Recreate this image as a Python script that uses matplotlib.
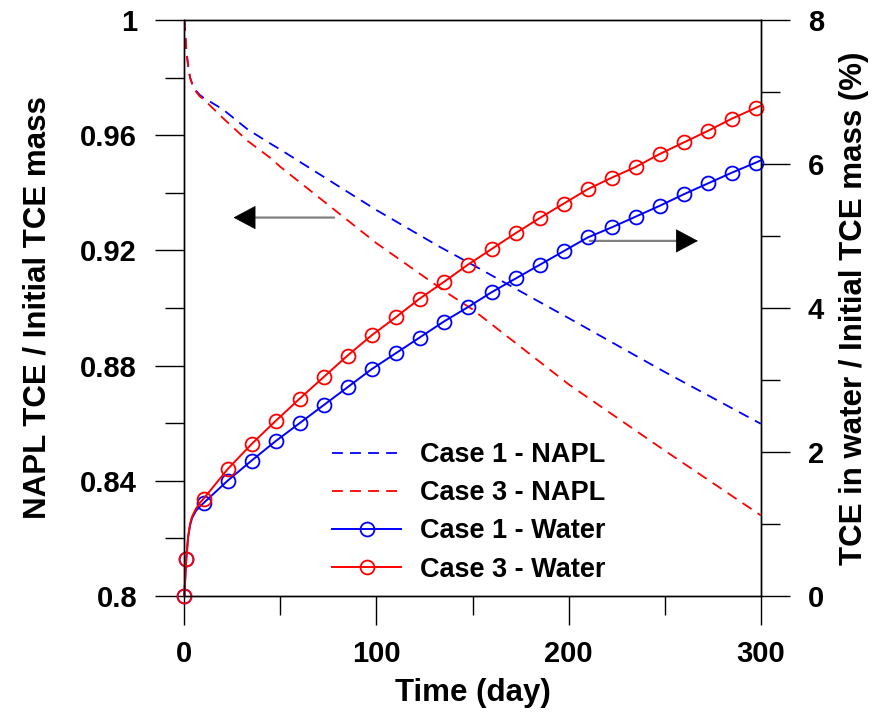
import numpy as np
import matplotlib
matplotlib.use("Agg")
import matplotlib.pyplot as plt
from matplotlib.ticker import MultipleLocator

plt.rcParams['font.family'] = ['Liberation Sans', 'DejaVu Sans']
plt.rcParams['font.weight'] = 'bold'

# NAPL mass fraction (left axis)
napl_t = [0, 0.5, 1, 2, 3, 4, 6, 8, 10, 20, 33, 45, 50, 100, 133, 135, 150, 200, 250, 300]
napl_case1 = [1.0, 0.995, 0.990, 0.984, 0.980, 0.978, 0.9755, 0.974, 0.973, 0.969, 0.962,
              0.957, 0.955, 0.934, 0.9212, 0.9205, 0.915, 0.8965, 0.8778, 0.8598]
napl_case3 = [1.0, 0.995, 0.990, 0.984, 0.980, 0.978, 0.9752, 0.9735, 0.9725, 0.966, 0.958,
              0.952, 0.949, 0.9225, 0.907, 0.906, 0.8995, 0.8735, 0.8505, 0.828]

# TCE in water (right axis, %)
water_t = [0, 1, 2, 3, 4, 6, 8, 10, 22.5, 35, 47.5, 60, 72.5, 85, 97.5, 110, 122.5, 135,
           147.5, 160, 172.5, 185, 197.5, 210, 222.5, 235, 247.5, 260, 272.5, 285, 297.5, 300]
water_case1 = [0, 0.51, 0.82, 0.98, 1.08, 1.18, 1.24, 1.29, 1.60, 1.88, 2.15, 2.40, 2.65, 2.90,
               3.15, 3.37, 3.59, 3.81, 4.01, 4.22, 4.41, 4.60, 4.79, 4.98, 5.12, 5.27, 5.42,
               5.58, 5.73, 5.88, 6.02, 6.05]
water_case3 = [0, 0.51, 0.83, 1.00, 1.10, 1.21, 1.29, 1.35, 1.76, 2.11, 2.43, 2.74, 3.04, 3.34,
               3.62, 3.87, 4.13, 4.36, 4.60, 4.82, 5.04, 5.25, 5.45, 5.65, 5.81, 5.96, 6.14,
               6.30, 6.46, 6.63, 6.78, 6.81]
marker_idx = [0, 1] + list(range(7, 31))

fig = plt.figure(figsize=(8.76, 7.17), dpi=100)
ax = fig.add_axes([0.2104, 0.1688, 0.658, 0.8033])
ax2 = ax.twinx()

dash = (0, (6, 4))
l1, = ax.plot(napl_t, napl_case1, color='#0000ff', lw=1.3, ls=dash, label='Case 1 - NAPL')
l2, = ax.plot(napl_t, napl_case3, color='#ff0000', lw=1.3, ls=dash, label='Case 3 - NAPL')

mk = dict(marker='o', ms=10, mfc='none', mew=1.3, lw=1.4, clip_on=False, markevery=marker_idx)
l3, = ax2.plot(water_t, water_case1, color='#0000ff', label='Case 1 - Water', **mk)
l4, = ax2.plot(water_t, water_case3, color='#ff0000', label='Case 3 - Water', **mk)

ax.set_xlim(0, 300)
ax.set_ylim(0.8, 1.0)
ax2.set_ylim(0, 8)

ax.xaxis.set_major_locator(MultipleLocator(100))
ax.xaxis.set_minor_locator(MultipleLocator(50))
ax.yaxis.set_minor_locator(MultipleLocator(0.02))
ax2.yaxis.set_major_locator(MultipleLocator(2))
ax2.yaxis.set_minor_locator(MultipleLocator(1))
ax.set_yticks([0.8, 0.84, 0.88, 0.92, 0.96, 1.0])
ax.set_yticklabels(['0.8', '0.84', '0.88', '0.92', '0.96', '1'])

for a in (ax, ax2):
    a.tick_params(which='major', direction='out', length=21, width=1, labelsize=21, pad=13)
    a.tick_params(which='minor', direction='out', length=14, width=1)
    for s in a.spines.values():
        s.set_linewidth(1)
ax.tick_params(axis='x', which='major', pad=11)

ax.set_xlabel('Time (day)', fontsize=22.5, fontweight='bold')
ax.set_ylabel('NAPL TCE / Initial TCE mass', fontsize=22.5, fontweight='bold')
ax2.set_ylabel('TCE in water / Initial TCE mass (%)', fontsize=22.5, fontweight='bold')
ax.xaxis.set_label_coords(0.5, -0.142)
ax.yaxis.set_label_coords(-0.229, 0.5)
ax2.yaxis.set_label_coords(1.136, 0.5)

# arrows pointing to the relevant axis: gray shaft, black head
shaft = dict(arrowstyle='-', color='#808080', lw=1.6, shrinkA=0, shrinkB=0)
head = dict(arrowstyle='-|>,head_length=1.5,head_width=0.8', color='black', lw=0.5,
            mutation_scale=10, shrinkA=0, shrinkB=0)
ax.annotate('', xy=(36, 0.9314), xytext=(78, 0.9314), arrowprops=shaft)
ax.annotate('', xy=(25.6, 0.9314), xytext=(36.4, 0.9314), arrowprops=head)
ax.annotate('', xy=(257, 0.9233), xytext=(211, 0.9233), arrowprops=shaft)
ax.annotate('', xy=(267.3, 0.9233), xytext=(256.5, 0.9233), arrowprops=head)

ax2.legend(handles=[l1, l2, l3, l4], loc='upper left', bbox_to_anchor=(332 / 876, 1 - 442 / 717),
           bbox_transform=fig.transFigure, frameon=False, fontsize=19.5, borderpad=0,
           borderaxespad=0, handlelength=2.55, handletextpad=0.7, labelspacing=0.45)

fig.savefig('out.png', dpi=100)
